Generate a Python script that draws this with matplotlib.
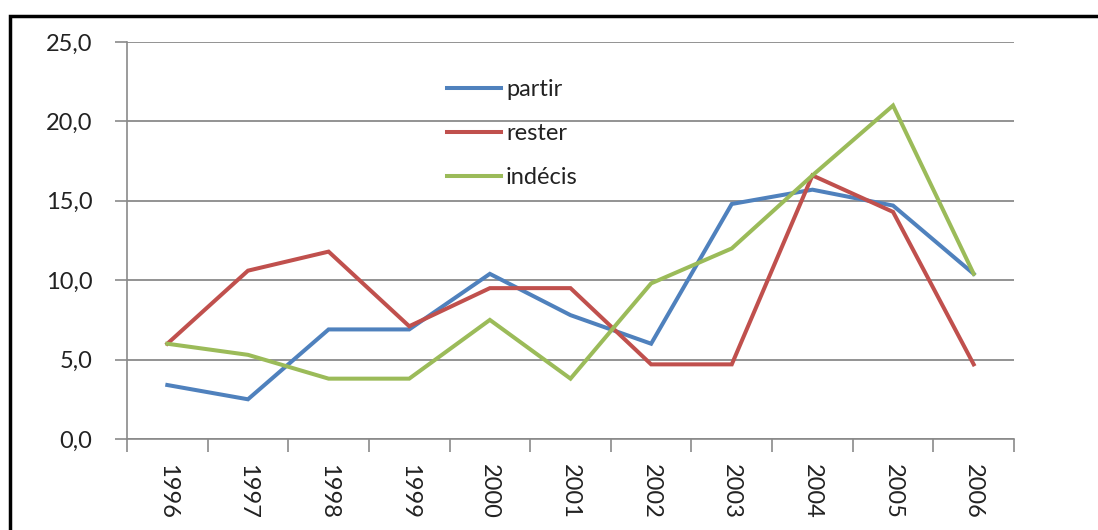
import matplotlib
matplotlib.use("Agg")
import matplotlib.pyplot as plt
from matplotlib.patches import Rectangle
from matplotlib.ticker import FuncFormatter, FixedLocator

years = ["1996", "1997", "1998", "1999", "2000", "2001", "2002", "2003", "2004", "2005", "2006"]
partir = [3.4, 2.5, 6.9, 6.9, 10.4, 7.8, 6.0, 14.8, 15.7, 14.7, 10.4]
rester = [6.0, 10.6, 11.8, 7.1, 9.5, 9.5, 4.7, 4.7, 16.6, 14.3, 4.7]
indecis = [6.0, 5.3, 3.8, 3.8, 7.5, 3.8, 9.8, 12.0, 16.6, 21.0, 10.4]
series_names = ["partir", "rester", "indécis"]
colors = ["#4F81BD", "#C0504D", "#9BBB59"]

plt.rcParams['font.family'] = ['Lato', 'DejaVu Sans']

fig = plt.figure(figsize=(10.98, 5.30), dpi=100)
fig.patch.set_facecolor("white")
ax = fig.add_axes([127/1098, 1-439/530, (1014-127)/1098, (439-42)/530])

x = list(range(len(years)))
for vals, name, c in zip([partir, rester, indecis], series_names, colors):
    ax.plot(x, vals, color=c, lw=2.9, label=name, solid_joinstyle='miter')

ax.set_ylim(0, 25)
ax.set_xlim(-0.5, len(years) - 0.5)
ax.set_yticks([0, 5, 10, 15, 20, 25])
ax.yaxis.set_major_formatter(FuncFormatter(lambda v, p: f"{v:.1f}".replace(".", ",")))
ax.grid(axis='y', color="#8a8a8a", lw=1.3)
ax.set_axisbelow(True)

ax.xaxis.set_major_locator(FixedLocator([i - 0.5 for i in range(len(years) + 1)]))
ax.xaxis.set_minor_locator(FixedLocator(x))
ax.set_xticklabels([], minor=False)
ax.set_xticklabels(years, minor=True, rotation=-90, fontsize=17, color="#222222")
ax.tick_params(axis='x', which='major', length=9, color="#8a8a8a", width=1.2)
ax.tick_params(axis='x', which='minor', length=0, pad=18)
ax.tick_params(axis='y', length=9, color="#8a8a8a", width=1.2, labelsize=17, labelcolor="#222222", pad=16)

for s in ['top', 'right']:
    ax.spines[s].set_visible(False)
for s in ['left', 'bottom']:
    ax.spines[s].set_color("#8a8a8a")
    ax.spines[s].set_linewidth(1.2)

leg = ax.legend(loc='upper left', bbox_to_anchor=(447/1098, 1-79/530), bbox_transform=fig.transFigure,
                frameon=False, fontsize=17, handlelength=2.3, handletextpad=0.2,
                labelspacing=0.97, borderpad=0, borderaxespad=0)
for t in leg.get_texts():
    t.set_color("#222222")

fig.patches.append(Rectangle((10/1098, -0.5), 2.0, 0.5 + (1-16/530), transform=fig.transFigure,
                             fill=False, edgecolor="black", lw=2.5))

fig.savefig("out.png", dpi=100)
